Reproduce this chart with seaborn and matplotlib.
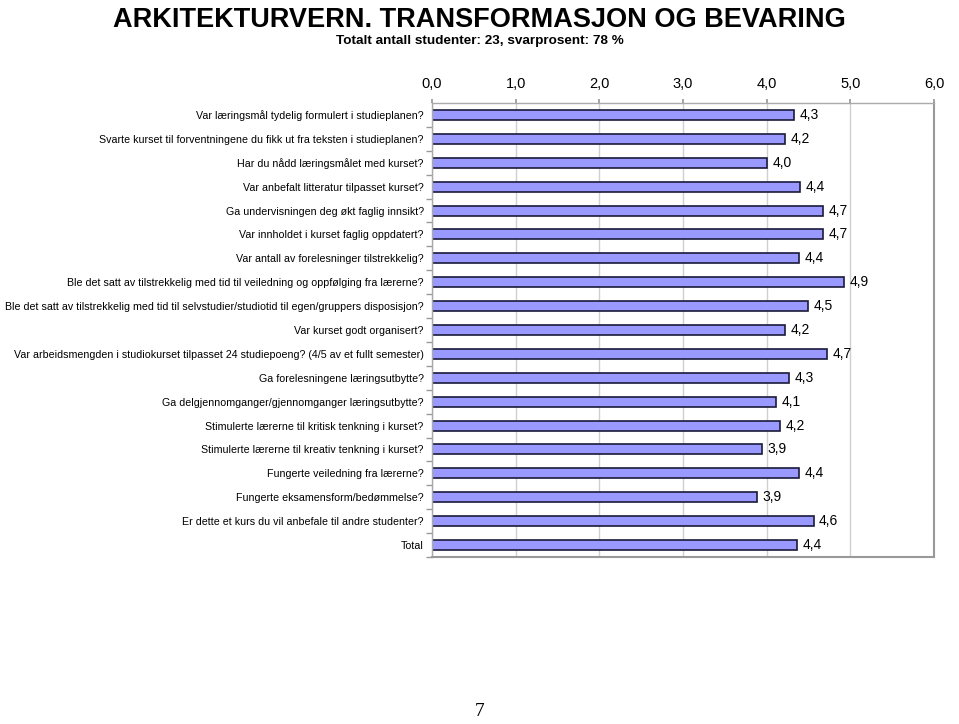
import numpy as np
import pandas as pd
import matplotlib
matplotlib.use('Agg')
import matplotlib.pyplot as plt
import seaborn as sns

TITLE = 'ARKITEKTURVERN. TRANSFORMASJON OG BEVARING'
SUBTITLE = 'Totalt antall studenter: 23, svarprosent: 78 %'

questions = [
    'Var læringsmål tydelig formulert i studieplanen?',
    'Svarte kurset til forventningene du fikk ut fra teksten i studieplanen?',
    'Har du nådd læringsmålet med kurset?',
    'Var anbefalt litteratur tilpasset kurset?',
    'Ga undervisningen deg økt faglig innsikt?',
    'Var innholdet i kurset faglig oppdatert?',
    'Var antall av forelesninger tilstrekkelig?',
    'Ble det satt av tilstrekkelig med tid til veiledning og oppfølging fra lærerne?',
    'Ble det satt av tilstrekkelig med tid til selvstudier/studiotid til egen/gruppers disposisjon?',
    'Var kurset godt organisert?',
    'Var arbeidsmengden i studiokurset tilpasset 24 studiepoeng? (4/5 av et fullt semester)',
    'Ga forelesningene læringsutbytte?',
    'Ga delgjennomganger/gjennomganger læringsutbytte?',
    'Stimulerte lærerne til kritisk tenkning i kurset?',
    'Stimulerte lærerne til kreativ tenkning i kurset?',
    'Fungerte veiledning fra lærerne?',
    'Fungerte eksamensform/bedømmelse?',
    'Er dette et kurs du vil anbefale til andre studenter?',
    'Total',
]
scores = [4.33, 4.22, 4.00, 4.40, 4.67, 4.67, 4.39, 4.93, 4.49, 4.22,
          4.72, 4.27, 4.11, 4.16, 3.94, 4.39, 3.88, 4.56, 4.36]
x_ticks = [0, 1, 2, 3, 4, 5, 6]
page_number = '7'


def fmt(v):
    return f'{v:.1f}'.replace('.', ',')


sns.set_theme(style='white')
plt.rcParams['font.family'] = ['Liberation Sans', 'DejaVu Sans']
plt.rcParams['text.color'] = 'black'
plt.rcParams['xtick.labelcolor'] = 'black'
plt.rcParams['ytick.labelcolor'] = 'black'

df = pd.DataFrame({'question': questions, 'score': scores})

fig = plt.figure(figsize=(9.59, 7.24), dpi=100)
ax = fig.add_axes([0.4505, 0.2307, 0.5234, 0.627])

sns.barplot(data=df, x='score', y='question', order=questions, color='#9999ff',
            edgecolor='#1a1a3a', linewidth=1.2, width=0.42, saturation=1, ax=ax)

ax.bar_label(ax.containers[0], labels=[fmt(v) for v in scores], padding=4,
             fontsize=10, color='black')

ax.set_xlim(0, 6)
ax.set_ylim(len(questions) - 0.5, -0.5)
ax.set_xticks(x_ticks)
ax.set_xticklabels([f'{t:.1f}'.replace('.', ',') for t in x_ticks], fontsize=10.5)
ax.xaxis.tick_top()
ax.tick_params(axis='x', length=3, color='#999999', pad=6, top=True, bottom=False)
ax.set_xlabel('')
ax.set_ylabel('')
ax.tick_params(axis='y', length=0, pad=6, labelsize=7.7)
ax.set_yticks(np.arange(len(questions)) + 0.5, minor=True)
ax.tick_params(axis='y', which='minor', length=4, color='#999999', left=True)
ax.xaxis.grid(True, color='#d0d0d0', linewidth=1)
ax.set_axisbelow(True)
for side in ['left', 'top']:
    ax.spines[side].set_color('#aaaaaa')
    ax.spines[side].set_linewidth(1)
for side in ['right', 'bottom']:
    ax.spines[side].set_color('#999999')
    ax.spines[side].set_linewidth(1.5)

fig.text(0.5, 0.9627, TITLE, ha='center', va='baseline', fontsize=19.5, fontweight='bold')
fig.text(0.5, 0.9392, SUBTITLE, ha='center', va='baseline', fontsize=9.7, fontweight='bold')
fig.text(0.5, 0.005, page_number, ha='center', va='bottom', fontsize=14,
         family=['Liberation Serif', 'DejaVu Serif'])

fig.savefig('out.png', dpi=100)
